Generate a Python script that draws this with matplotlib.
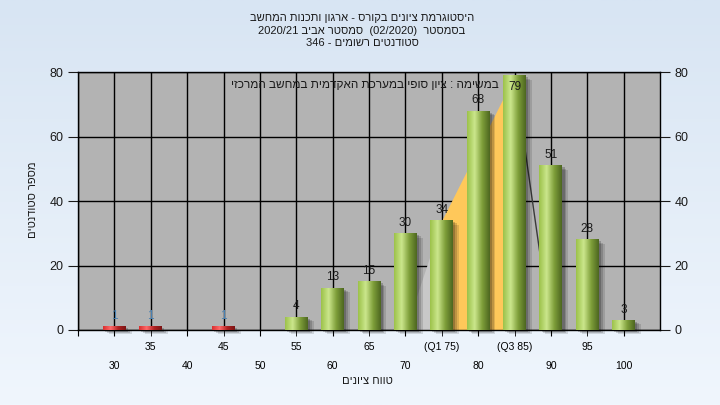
import numpy as np
import matplotlib
matplotlib.use('Agg')
import matplotlib.pyplot as plt
from matplotlib.colors import LinearSegmentedColormap
from matplotlib.patches import Rectangle

plt.rcParams['font.family'] = ['Liberation Sans', 'DejaVu Sans']

# data
grades = [30, 35, 40, 45, 50, 55, 60, 65, 70, 75, 80, 85, 90, 95, 100]
counts = [1, 1, 0, 1, 0, 4, 13, 15, 30, 34, 68, 79, 51, 28, 3]
tick_labels = ['30', '35', '40', '45', '50', '55', '60', '65', '70',
               '(Q1 75)', '80', '(Q3 85)', '90', '95', '100']
pass_grade = 55
# area behind the bars (quartile range in orange)
area_grades = [70, 75, 85, 90]
area_vals = [0, 34, 79, 0]

title_lines = ['היסטוגרמת ציונים בקורס - ארגון ותכנות המחשב',
               'בסמסטר  (02/2020)  סמסטר אביב 2020/21',
               'סטודנטים רשומים - 346']
legend_text = 'במשימה : ציון סופי במערכת האקדמית במחשב המרכזי'
xlabel = 'טווח ציונים'
ylabel = 'מספר סטודנטים'


def heb(s):
    # crude bidi: reverse word order, reverse letters of hebrew words
    out = []
    for tok in s.split(' ')[::-1]:
        if any('\u0590' <= c <= '\u05ff' for c in tok):
            tok = tok[::-1]
        out.append(tok)
    return ' '.join(out)


fig = plt.figure(figsize=(7.2, 4.05), dpi=100)

# background gradient
bg = fig.add_axes([0, 0, 1, 1], zorder=-10)
grad = np.linspace(0, 1, 256).reshape(-1, 1)
bg_cmap = LinearSegmentedColormap.from_list('bg', ['#d8e5f3', '#f0f6fd'])
bg.imshow(grad, cmap=bg_cmap, aspect='auto', extent=[0, 1, 0, 1])
bg.axis('off')

ax = fig.add_axes([78 / 720, 1 - 330 / 405, 582 / 720, 257.5 / 405])
ax.set_facecolor('#b3b3b3')

idx = np.arange(len(grades))
w = 0.63
green = LinearSegmentedColormap.from_list('g', ['#9cc24a', '#cbe68c', '#7f9f3a', '#4d6720'])
red = LinearSegmentedColormap.from_list('r', ['#d83030', '#ff6a6a', '#b02020', '#7a1515'])
hgrad = np.linspace(0, 1, 64).reshape(1, -1)

# area series
a_idx = [grades.index(g) for g in area_grades]
ax.fill_between(a_idx[:2], 0, area_vals[:2], color='#c8c8c8', zorder=1.5, lw=0)
ax.fill_between(a_idx[1:3], 0, area_vals[1:3], color='#ffc85a', zorder=1.6, lw=0)
ax.plot(a_idx[2:], area_vals[2:], color='#3a3a3a', lw=1, zorder=1.7)

for i, v in zip(idx, counts):
    if v <= 0:
        continue
    cmap = red if grades[i] < pass_grade else green
    # soft shadow
    for off, a in [(0.16, 0.12), (0.11, 0.15), (0.06, 0.2)]:
        ax.add_patch(Rectangle((i - w / 2 + off, -off * 8), w, v, color='black', alpha=a,
                               lw=0, zorder=2.5, clip_on=False))
    ax.imshow(hgrad, cmap=cmap, aspect='auto', zorder=3,
              extent=[i - w / 2, i + w / 2, 0, v])
    lbl_y = v + 1.5 if v < 74 else v - 5.5
    col = '#4a80b0' if v == 1 else '#1a1a1a'
    ax.text(i, lbl_y, str(v), ha='center', va='bottom', fontsize=8.5, color=col, zorder=4)

ax.text(11 - 0.42, 76, heb(legend_text), ha='right', va='center', fontsize=8.5,
        color='#1a1a1a', zorder=2)

ax.set_xlim(-1, len(grades))
ax.set_ylim(0, 80)
ax.set_yticks([0, 20, 40, 60, 80])
ax.tick_params(axis='y', which='both', left=True, right=True, labelleft=True,
               labelright=True, length=7, labelsize=9, colors='#1a1a1a')

even = [i for i in idx if i % 2 == 0]
odd = [i for i in idx if i % 2 == 1]
ax.set_xticks([-1] + even)
ax.set_xticklabels([''] + [tick_labels[i] for i in even])
ax.set_xticks(odd, minor=True)
ax.set_xticklabels([tick_labels[i] for i in odd], minor=True)
ax.tick_params(axis='x', which='major', length=4, pad=18, labelsize=7.5)
ax.tick_params(axis='x', which='minor', length=4, pad=5, labelsize=7.5)

ax.set_axisbelow(True)
ax.grid(True, which='both', color='black', lw=1, zorder=1)
for s in ax.spines.values():
    s.set_color('black')
    s.set_linewidth(1)

for k, line in enumerate(title_lines):
    fig.text(362 / 720, 1 - (18 + 12.5 * k) / 405, heb(line), ha='center', va='center',
             fontsize=8, color='#1a1a1a')
fig.text(367 / 720, 1 - 381 / 405, heb(xlabel), ha='center', va='center',
         fontsize=8, color='#1a1a1a')
fig.text(33 / 720, 1 - 200 / 405, heb(ylabel), ha='center', va='center',
         fontsize=8, rotation=90, color='#1a1a1a')

fig.savefig('out.png', dpi=100)
